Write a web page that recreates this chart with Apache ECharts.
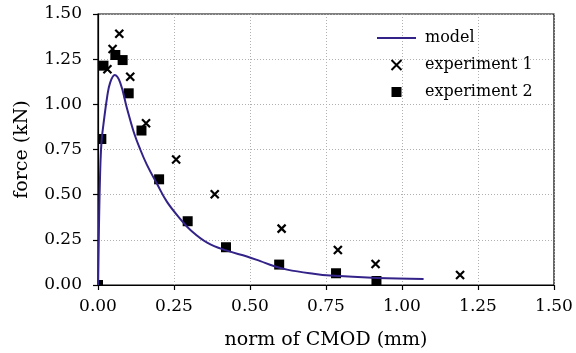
<!DOCTYPE html>
<html>
<head>
<meta charset="utf-8">
<script src="https://cdn.jsdelivr.net/npm/echarts@6/dist/echarts.min.js"></script>
<style>
  html, body { margin: 0; padding: 0; background: #fff; }
  #chart { width: 576px; height: 353px; }
</style>
</head>
<body>
<div id="chart"></div>
<script>
// model curve (norm of CMOD in mm, force in kN)
const modelX = [0, 0.004, 0.007, 0.010, 0.013, 0.018, 0.030, 0.040, 0.055, 0.073, 0.095, 0.117, 0.139, 0.161, 0.194, 0.227, 0.271, 0.304, 0.359, 0.424, 0.490, 0.534, 0.578, 0.622, 0.709, 0.764, 0.918, 1.071];
const modelY = [0, 0.40, 0.62, 0.75, 0.82, 0.89, 1.04, 1.12, 1.162, 1.12, 0.98, 0.85, 0.75, 0.665, 0.56, 0.46, 0.365, 0.305, 0.235, 0.19, 0.158, 0.132, 0.105, 0.085, 0.062, 0.052, 0.039, 0.033];

// experiment 1 (crosses)
const exp1X = [0.031, 0.048, 0.070, 0.106, 0.158, 0.257, 0.384, 0.604, 0.789, 0.913, 1.191];
const exp1Y = [1.194, 1.306, 1.391, 1.153, 0.895, 0.695, 0.502, 0.312, 0.194, 0.116, 0.055];

// experiment 2 (squares)
const exp2X = [0, 0.011, 0.018, 0.057, 0.081, 0.101, 0.143, 0.201, 0.295, 0.421, 0.596, 0.783, 0.916];
const exp2Y = [0, 0.808, 1.214, 1.273, 1.245, 1.061, 0.855, 0.585, 0.353, 0.209, 0.113, 0.065, 0.022];

const zip = (xs, ys) => xs.map((x, i) => [x, ys[i]]);

const font = 'DejaVu Serif';
const crossPath = 'path://M0,0L10,10M10,0L0,10';
const squarePath = 'path://M0,0L10,0L10,10L0,10Z';
const linePath = 'path://M0,0L39,0L39,2L0,2Z';

const chart = echarts.init(document.getElementById('chart'));

const axisCommon = {
    type: 'value',
    min: 0,
    max: 1.5,
    interval: 0.25,
    nameLocation: 'middle',
    nameTextStyle: { fontFamily: font, fontSize: 19, color: '#000' },
    axisLine: { show: true, lineStyle: { color: '#000', width: 1.2 } },
    axisTick: { show: true, length: 5, lineStyle: { color: '#000', width: 1.2 } },
    axisLabel: {
        fontFamily: font,
        fontSize: 17,
        color: '#000',
        formatter: v => v.toFixed(2)
    },
    splitLine: {
        show: true,
        lineStyle: { color: '#b0b0b0', width: 1, type: [1, 2] }
    }
};

// squares are clipped to the plot area like matplotlib does
const renderSquare = (params, api) => {
    const p = api.coord([api.value(0), api.value(1)]);
    const s = 10;
    const shape = echarts.graphic.clipRectByRect(
        { x: p[0] - s / 2, y: p[1] - s / 2, width: s, height: s },
        { x: params.coordSys.x, y: params.coordSys.y, width: params.coordSys.width, height: params.coordSys.height }
    );
    return shape && { type: 'rect', shape: shape, style: { fill: '#000' } };
};

chart.setOption({
    animation: false,
    backgroundColor: '#fff',
    grid: {
        left: 98, right: 22, top: 14, bottom: 68,
        outerBoundsMode: 'none',
        show: true,
        borderColor: '#000',
        borderWidth: 1.2
    },
    legend: {
        orient: 'vertical',
        left: 372,
        top: 25,
        itemWidth: 39,
        itemHeight: 10,
        itemGap: 11,
        textStyle: { fontFamily: font, fontSize: 16, color: '#000', padding: [0, 0, 0, 4] },
        data: [
            { name: 'model', icon: linePath, itemStyle: { color: '#332288' } },
            { name: 'experiment 1', icon: crossPath },
            { name: 'experiment 2', icon: squarePath, itemStyle: { color: '#000' } }
        ]
    },
    xAxis: Object.assign({}, axisCommon, {
        name: 'norm of CMOD (mm)',
        nameGap: 46,
        axisLabel: Object.assign({}, axisCommon.axisLabel, { margin: 13 })
    }),
    yAxis: Object.assign({}, axisCommon, {
        name: 'force (kN)',
        nameGap: 66,
        axisLabel: Object.assign({}, axisCommon.axisLabel, { margin: 16 })
    }),
    series: [
        {
            name: 'model',
            type: 'line',
            data: zip(modelX, modelY),
            symbol: 'none',
            smooth: 0.4,
            lineStyle: { color: '#332288', width: 2 },
            itemStyle: { color: '#332288' }
        },
        {
            name: 'experiment 1',
            type: 'scatter',
            data: zip(exp1X, exp1Y),
            symbol: crossPath,
            symbolSize: 8,
            itemStyle: { color: '#000', borderColor: '#000', borderWidth: 2.2, opacity: 1 }
        },
        {
            name: 'experiment 2',
            type: 'custom',
            data: zip(exp2X, exp2Y),
            encode: { x: 0, y: 1 },
            renderItem: renderSquare,
            itemStyle: { color: '#000' }
        }
    ]
});
</script>
</body>
</html>
